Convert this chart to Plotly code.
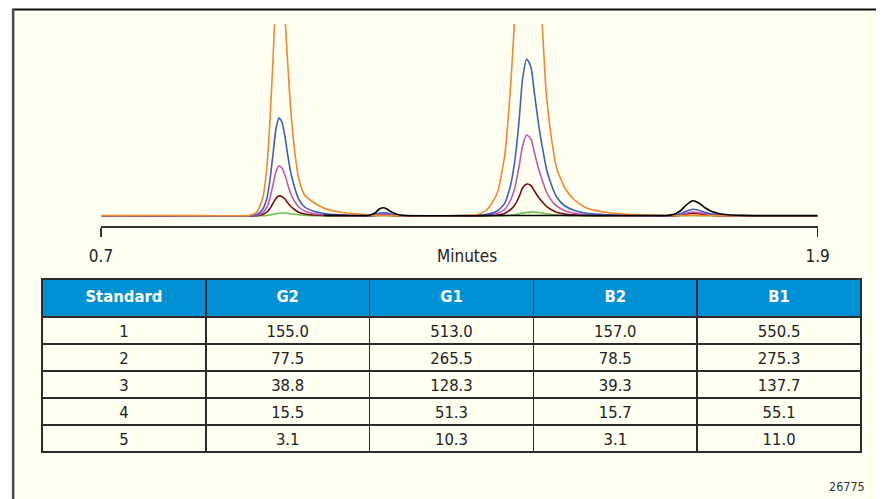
import plotly.graph_objects as go

# ---------------- data ----------------
time_min = [
    0.700, 0.800, 0.900, 0.930,
    0.948, 0.961, 0.971, 0.978, 0.983, 0.988, 0.993, 0.998, 1.003, 1.008,
    1.013, 1.018, 1.025, 1.031, 1.041, 1.055, 1.073, 1.098, 1.132,
    1.147, 1.159, 1.165, 1.172, 1.179, 1.185, 1.197, 1.209,
    1.250, 1.300, 1.330,
    1.346, 1.363, 1.376, 1.386, 1.393, 1.400, 1.406, 1.413, 1.420, 1.426,
    1.433, 1.440, 1.446, 1.455, 1.463, 1.477, 1.493, 1.513, 1.547,
    1.580, 1.620,
    1.647, 1.661, 1.671, 1.681, 1.691, 1.701, 1.711, 1.721, 1.734, 1.751, 1.774,
    1.800, 1.850, 1.900,
]

std1_orange = [
    0.4, 0.5, 0.3, 0.3,
    0.5, 4, 18, 50, 95, 155, 220, 250, 240, 200, 150, 105, 62, 38, 21, 14, 8, 4, 2,
    1.2, 0.8, 0.6, 0.5, 0.5, 0.4, 0.4, 0.3,
    0.3, 0.5, 1.5,
    6, 22, 60, 130, 200, 290, 380, 420, 410, 360, 260, 180, 120, 75, 48, 28, 16, 8, 3.5,
    1.8, 0.9,
    0.5, 0.5, 0.5, 0.6, 0.6, 0.6, 0.5, 0.5, 0.4, 0.4, 0.4,
    0.3, 0.3, 0.3,
]
std2_blue = [
    0.3, 0.3, 0.3, 0.3,
    0.3, 1.5, 7, 18, 36, 61, 87, 98, 94, 80, 60, 43, 27, 17, 9, 5, 2.5, 1.2, 0.5,
    0.5, 1.8, 2.8, 3.3, 2.9, 2, 0.8, 0.4,
    0.3, 0.4, 0.8,
    1.6, 4.7, 12.6, 31, 55, 94, 137, 157, 149, 122, 91, 66, 47, 30, 19, 10, 5.5, 2.8, 1.3,
    0.8, 0.5,
    0.3, 0.9, 2.4, 5, 6.7, 5.7, 3.8, 2.2, 1.1, 0.5, 0.3,
    0.3, 0.2, 0.2,
]
std3_magenta = [
    0.2, 0.2, 0.2, 0.2,
    0.2, 0.8, 3.5, 9, 18, 31, 44, 50, 48, 41, 31, 22, 14, 9, 5, 2.5, 1.2, 0.6, 0.3,
    0.3, 1.1, 1.7, 2, 1.8, 1.2, 0.5, 0.2,
    0.2, 0.3, 0.5,
    0.8, 2.4, 6.5, 16, 28, 49, 70, 81, 77, 63, 47, 34, 24, 15, 10, 5.3, 2.8, 1.5, 0.6,
    0.4, 0.3,
    0.2, 0.5, 1.4, 3, 4, 3.4, 2.3, 1.3, 0.7, 0.3, 0.2,
    0.2, 0.2, 0.2,
]
std4_darkred = [
    0.1, 0.1, 0.1, 0.1,
    0.1, 0.4, 1.5, 4, 7.5, 12.5, 17.5, 20, 19.5, 17, 13, 9.5, 6, 3.8, 2, 1, 0.5, 0.2, 0.1,
    0.1, 0.6, 1, 1.2, 1.1, 0.7, 0.3, 0.1,
    0.1, 0.1, 0.2,
    0.3, 1, 2.6, 6.4, 11, 19, 28, 32, 30.5, 25, 18.5, 13.5, 9.6, 6, 3.8, 2, 1.1, 0.6, 0.3,
    0.2, 0.1,
    0.1, 0.3, 0.9, 2, 2.7, 2.3, 1.5, 0.9, 0.4, 0.2, 0.1,
    0.1, 0.1, 0.1,
]
std5_green = [
    0, 0, 0, 0,
    0, 0, 0.2, 0.5, 1, 1.6, 2.3, 2.8, 3, 3, 2.7, 2.3, 1.7, 1.2, 0.7, 0.3, 0.1, 0, 0,
    0, 0.1, 0.2, 0.3, 0.2, 0.1, 0, 0,
    0, 0, 0,
    0, 0.1, 0.3, 0.8, 1.3, 2, 2.9, 3.5, 3.9, 3.9, 3.5, 2.9, 2.2, 1.5, 1, 0.5, 0.3, 0.1, 0,
    0, 0,
    0, 0.1, 0.2, 0.4, 0.5, 0.4, 0.3, 0.2, 0.1, 0, 0,
    0, 0, 0,
]
sample_black = [
    None, None, None, None,
    None, None, None, None, None, None, None, None, None, None,
    None, None, None, None, None, None, 0.6, 0.6, 0.5,
    0.5, 3, 6.5, 8.3, 7, 4.5, 1.5, 0.5,
    0.3, 0.2, 0.3,
    0.5, 0.5, 0.5, 0.5, 0.5, 0.5, 0.5, 0.5, 0.5, 0.5, 0.5, 0.5, 0.5, 0.5, 0.5, 0.5, 0.5, 0.5, 0.5,
    0.5, 0.5,
    0.5, 2, 5.5, 11.5, 15.3, 13, 8.5, 5, 2.5, 1.2, 0.6,
    0.4, 0.4, 0.4,
]

x_ticks = [0.7, 1.9]
x_tick_labels = ["0.7", "1.9"]
x_title = "Minutes"

table_header = ["Standard", "G2", "G1", "B2", "B1"]
standard = [1, 2, 3, 4, 5]
g2 = [155.0, 77.5, 38.8, 15.5, 3.1]
g1 = [513.0, 265.5, 128.3, 51.3, 10.3]
b2 = [157.0, 78.5, 39.3, 15.7, 3.1]
b1 = [550.5, 275.3, 137.7, 55.1, 11.0]
figure_id = "26775"

# ---------------- figure ----------------
W, H = 888, 499
FONT = "DejaVu Sans Condensed, Liberation Sans Narrow, Arial Narrow, sans-serif"
CREAM = "#fffff2"


def PX(x):
    """horizontal placement (target pixel -> paper fraction)."""
    v = (x - 12.0) / 0.9735 / W
    return min(max(v, 0.0), 1.0)


def PY(y):
    return 1 - y / H


series = [
    ("Standard 5", std5_green, "#6cc04a"),
    ("Standard 4", std4_darkred, "#7a0c10"),
    ("Standard 3", std3_magenta, "#c257b8"),
    ("Standard 2", std2_blue, "#3d5fc0"),
    ("Standard 1", std1_orange, "#f7862e"),
    ("Sample", sample_black, "#000000"),
]

fig = go.Figure()
for name, ys, col in series:
    fig.add_trace(go.Scatter(
        x=time_min, y=ys, mode="lines", name=name,
        line=dict(color=col, width=1.6, shape="spline", smoothing=0.6),
        connectgaps=False, hoverinfo="skip", showlegend=False,
    ))

fmt = lambda a: [f"{v:.1f}" for v in a]
fig.add_trace(go.Table(
    domain=dict(x=[PX(42), PX(862)], y=[0.0, PY(279)]),
    header=dict(
        values=[f"<b>{h}</b>" for h in table_header],
        fill_color="#0090d4",
        line=dict(color="#2b2b2b", width=1.5),
        font=dict(family=FONT, size=16.5, color="white"),
        align="center", height=38,
    ),
    cells=dict(
        values=[[str(s) for s in standard], fmt(g2), fmt(g1), fmt(b2), fmt(b1)],
        fill_color=CREAM,
        line=dict(color="#2b2b2b", width=1.5),
        font=dict(family=FONT, size=16.5, color="#222222"),
        align="center", height=27,
    ),
))

fig.update_layout(
    width=W, height=H, autosize=False,
    margin=dict(l=0, r=0, t=0, b=0),
    paper_bgcolor="white",
    plot_bgcolor="rgba(0,0,0,0)",
    font=dict(family=FONT, color="#222222"),
    xaxis=dict(
        domain=[PX(101), PX(818)], range=[0.7, 1.9],
        showgrid=False, zeroline=False,
        showline=True, linecolor="#333333", linewidth=1.5,
        ticks="outside", ticklen=9, tickwidth=1.5, tickcolor="#333333",
        tickvals=x_ticks, ticktext=x_tick_labels,
        tickfont=dict(family=FONT, size=17, color="#222222"),
        ticklabelstandoff=5,
    ),
    yaxis=dict(
        domain=[PY(226), PY(24)], range=[-10, 192],
        visible=False, showgrid=False, zeroline=False,
    ),
    shapes=[
        dict(type="rect", xref="paper", yref="paper", layer="below",
             x0=0, x1=1.0, y0=0, y1=PY(9.5),
             fillcolor=CREAM, line=dict(width=0)),
        dict(type="line", xref="paper", yref="paper", layer="below",
             x0=0, x1=1.0, y0=PY(9.5), y1=PY(9.5),
             line=dict(color="#111111", width=2)),
        dict(type="line", xref="paper", yref="paper", layer="below",
             x0=1.2 / W, x1=1.2 / W, y0=0, y1=PY(9),
             line=dict(color="#4a4a4a", width=2.5)),
    ],
    annotations=[
        dict(text=x_title, xref="paper", yref="paper",
             x=PX(467), y=PY(256), xanchor="center", yanchor="middle",
             showarrow=False, font=dict(family=FONT, size=17, color="#222222")),
        dict(text=figure_id, xref="paper", yref="paper",
             x=PX(847), y=PY(486), xanchor="center", yanchor="middle",
             showarrow=False, font=dict(family=FONT, size=12.5, color="#333333")),
    ],
)

fig.write_html(
    "out.html",
    config={"responsive": False, "displayModeBar": False, "staticPlot": True},
    post_script=(
        "document.documentElement.style.margin='0';"
        "document.documentElement.style.padding='0';"
        "document.documentElement.style.overflow='hidden';"
        "document.body.style.margin='0';"
        "document.body.style.padding='0';"
        "document.body.style.overflow='hidden';"
        "var gd=document.getElementById('{plot_id}');"
        "gd.style.position='absolute';gd.style.left='0px';gd.style.top='0px';"
        "gd.style.margin='0';"
    ),
)
